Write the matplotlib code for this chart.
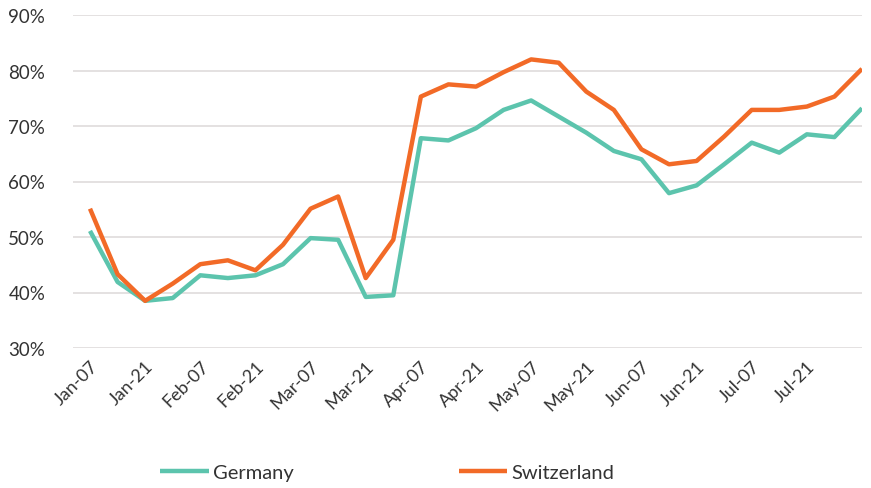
import matplotlib
matplotlib.use("Agg")
import matplotlib.pyplot as plt
from matplotlib.ticker import FuncFormatter

dates = ["Jan-07", "Jan-14", "Jan-21", "Jan-28", "Feb-07", "Feb-14", "Feb-21", "Feb-28",
         "Mar-07", "Mar-14", "Mar-21", "Mar-28", "Apr-07", "Apr-14", "Apr-21", "Apr-28",
         "May-07", "May-14", "May-21", "May-28", "Jun-07", "Jun-14", "Jun-21", "Jun-28",
         "Jul-07", "Jul-14", "Jul-21", "Jul-28", "Aug-07"]

germany = [51.1, 41.9, 38.5, 39.0, 43.1, 42.6, 43.1, 45.1, 49.8, 49.5, 39.2, 39.5,
           67.8, 67.4, 69.6, 72.9, 74.6, 71.7, 68.8, 65.5, 64.0, 57.9, 59.3, 63.1,
           67.0, 65.2, 68.5, 68.0, 73.2]

switzerland = [55.1, 43.3, 38.5, 41.6, 45.1, 45.8, 44.0, 48.6, 55.1, 57.3, 42.6, 49.5,
               75.3, 77.5, 77.1, 79.7, 82.0, 81.4, 76.2, 72.9, 65.8, 63.1, 63.7, 68.1,
               72.9, 72.9, 73.5, 75.3, 80.3]

yticks = [30, 40, 50, 60, 70, 80, 90]

plt.rcParams['font.family'] = ['Lato', 'DejaVu Sans']
text_color = '#333333'

fig = plt.figure(figsize=(8.71, 4.89), dpi=100)
ax = fig.add_axes([73/871, 1-349/489, (862-73)/871, (349-16)/489])

x = list(range(len(dates)))
ax.plot(x, germany, color='#5cc4ad', lw=3.2, label='Germany', solid_capstyle='butt', zorder=3)
ax.plot(x, switzerland, color='#f26a27', lw=3.2, label='Switzerland', solid_capstyle='butt', zorder=3)

ax.set_ylim(30, 90)
ax.set_yticks(yticks)
ax.yaxis.set_major_formatter(FuncFormatter(lambda v, p: f"{v:.0f}%"))
step = (862 - 90) / 28
ax.set_xlim(-(90 - 73) / step, len(dates) - 1)
ax.set_xticks(x[:27:2])
ax.set_xticklabels(dates[:27:2], rotation=45, ha='right', rotation_mode='anchor')

ax.grid(axis='y', color='#e2dede', lw=1.3, zorder=0)
ax.grid(axis='x', visible=False)
for s in ax.spines.values():
    s.set_visible(False)
ax.tick_params(axis='both', length=0, colors=text_color)
ax.tick_params(axis='y', labelsize=13.5, pad=20)
ax.tick_params(axis='x', labelsize=13, pad=7)

leg = fig.legend(loc='center', bbox_to_anchor=(387/871, 1-473/489), ncol=2,
                 frameon=False, fontsize=14.5, handlelength=2.4, handletextpad=0.2,
                 columnspacing=8.2)
for t in leg.get_texts():
    t.set_color(text_color)

fig.savefig('out.png', dpi=100)
